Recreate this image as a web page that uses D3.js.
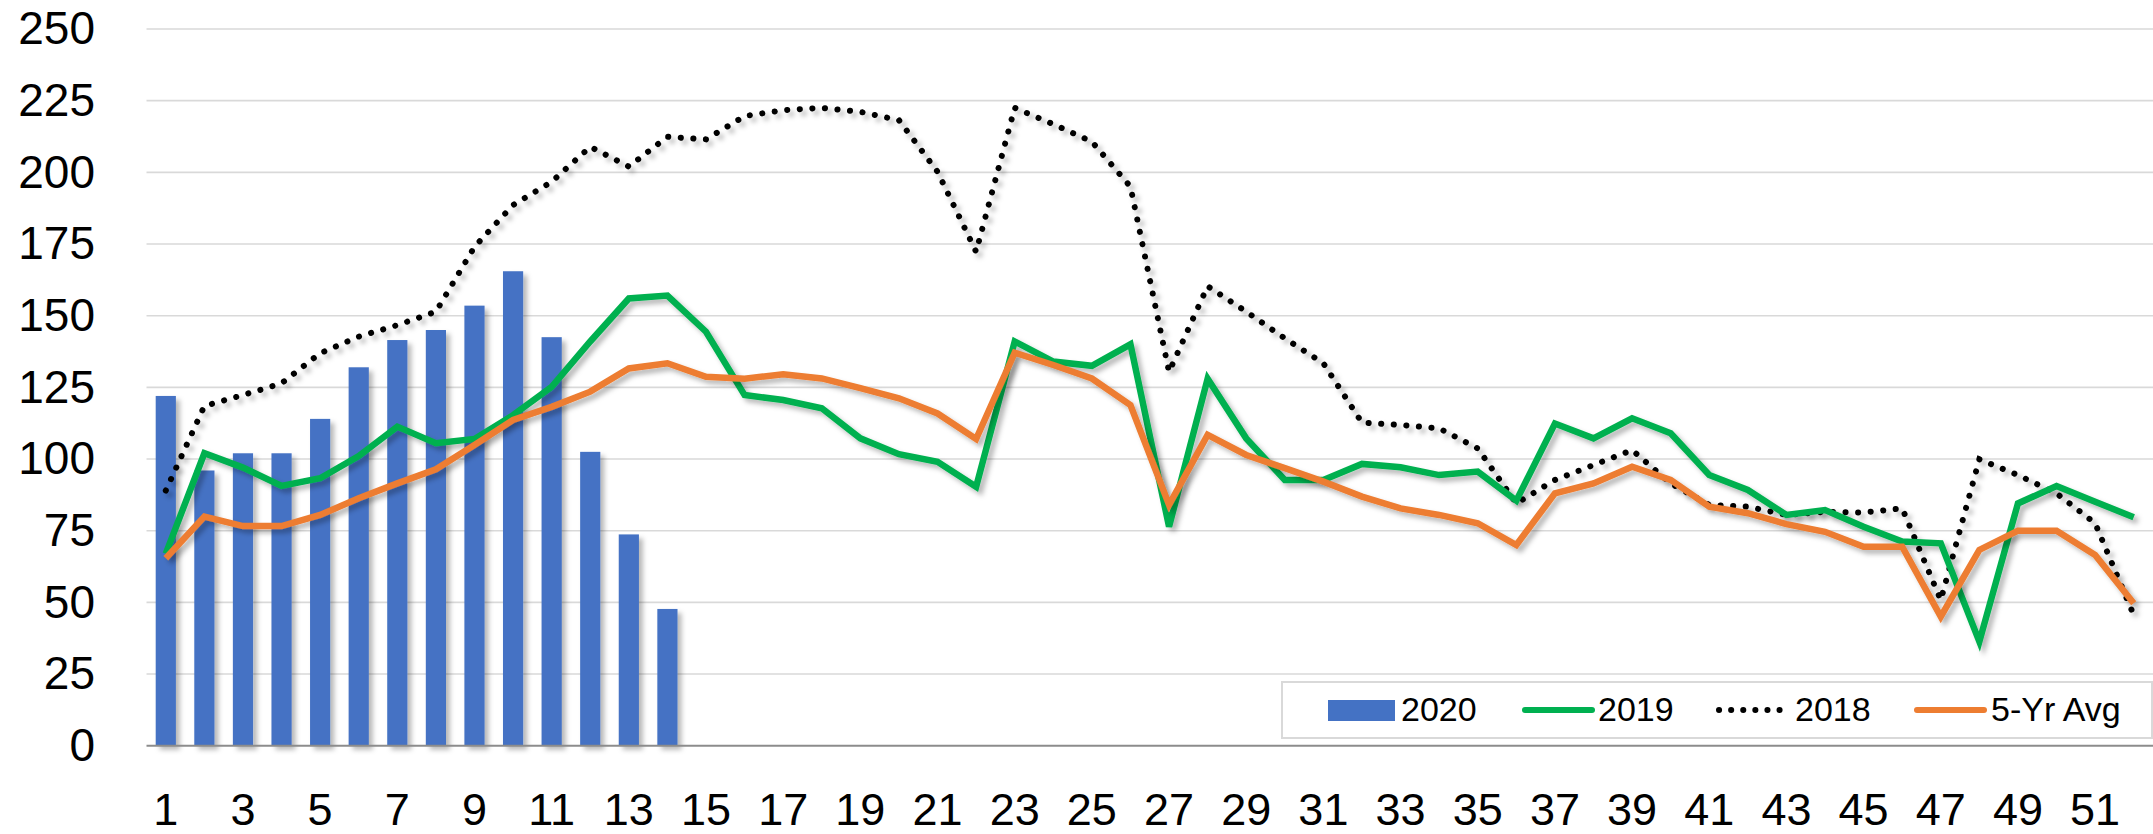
<!DOCTYPE html>
<html>
<head>
<meta charset="utf-8">
<script src="https://cdn.jsdelivr.net/npm/d3@7"></script>
<style>
  html, body { margin: 0; padding: 0; background: #fff; }
  svg text { font-family: "Liberation Sans", Arial, sans-serif; fill: #000; }
</style>
</head>
<body>
<div id="chart"></div>
<script>
var width = 2153, height = 834;

// week numbers
var weeks = d3.range(1, 53);
var weekTicks = d3.range(1, 53, 2);
var yTicks = [0, 25, 50, 75, 100, 125, 150, 175, 200, 225, 250];

// 2020 (bars, only first 14 weeks)
var bars2020 = [122, 96, 102, 102, 114, 132, 141.5, 145, 153.5, 165.5, 142.5, 102.5, 73.7, 47.7];

var line2019 = [67, 102, 97, 90.6, 93.3, 101, 111.3, 105.5, 107, 115.3, 125.2, 141, 156, 157, 144.4,
  122.3, 120.6, 117.7, 107.2, 101.7, 99, 90.3, 141, 134, 132.5, 140, 76.4, 128, 107.2, 92.7,
  92.7, 98.3, 97.1, 94.4, 95.6, 85.5, 112.4, 107.2, 114.2, 109, 94.4, 89.2, 80.5, 82.2, 76.4,
  71.2, 70.6, 36.3, 84.5, 90.6, 85.1, 79.7];

var line2018 = [89, 118.5, 122.3, 126.4, 136.9, 142.7, 146.7, 151.4, 174, 188.6, 196.7, 208.9, 202, 212.4, 211.5,
  219.6, 221.7, 222.5, 221.1, 218.2, 200.2, 172.3, 222.5, 216.8, 210.7, 195, 130.4, 160.3, 151.4, 142.1,
  133.4, 112.7, 111.9, 110.7, 103.7, 84.5, 92.7, 97.9, 103.1, 91.5, 84, 83.4, 80.5, 81.6, 81.3,
  82.8, 50.8, 99.9, 94.4, 88, 77.6, 45.6];

var lineAvg = [65.4, 79.9, 76.6, 76.6, 80.5, 86.3, 91.5, 96.4, 104.9, 113.6, 118.2, 123.5, 131.6, 133.4, 128.7,
  128, 129.6, 128.1, 124.7, 121.2, 115.9, 107, 137.1, 132.8, 128.1, 118.8, 84, 108.4, 101.4, 96.8,
  92.1, 86.9, 82.8, 80.5, 77.6, 70, 88, 91.5, 97.3, 92.7, 83.4, 81.1, 77.3, 74.6, 69.4,
  69.4, 45, 68.3, 75, 75, 66.5, 49.7];

var plotLeft = 146.5, plotRight = 2153, plotTop = 29, plotBottom = 745.7;

var svg = d3.select("#chart").append("svg")
    .attr("width", width)
    .attr("height", height);

var defs = svg.append("defs");
defs.append("filter")
    .attr("id", "shadow")
    .attr("x", "-5%").attr("y", "-5%")
    .attr("width", "110%").attr("height", "110%")
  .append("feDropShadow")
    .attr("dx", 4).attr("dy", 4)
    .attr("stdDeviation", 2.5)
    .attr("flood-color", "#000")
    .attr("flood-opacity", 0.28);

var xScale = d3.scaleBand()
    .domain(weeks)
    .range([plotLeft, plotRight])
    .paddingInner(0.477)
    .paddingOuter(0.2385);

var yScale = d3.scaleLinear()
    .domain([0, 250])
    .range([plotBottom, plotTop]);

function cx(w) { return xScale(w) + xScale.bandwidth() / 2; }

// gridlines
svg.append("g")
    .selectAll("line")
    .data(yTicks.slice(1))
    .enter()
    .append("line")
    .attr("x1", plotLeft)
    .attr("x2", plotRight)
    .attr("y1", function(d) { return yScale(d); })
    .attr("y2", function(d) { return yScale(d); })
    .attr("stroke", "#d9d9d9")
    .attr("stroke-width", 1.6);

// y axis labels
var yAxis = svg.append("g")
    .attr("transform", "translate(" + plotLeft + ",0)")
    .call(d3.axisLeft(yScale).tickValues(yTicks).tickSize(0).tickPadding(51.5));
yAxis.select(".domain").remove();
yAxis.selectAll("text")
    .style("font-size", "46px")
    .attr("fill", "#000");

// x axis labels
var xAxis = svg.append("g")
    .attr("transform", "translate(0," + plotBottom + ")")
    .call(d3.axisBottom(xScale).tickValues(weekTicks).tickSize(0).tickPadding(47));
xAxis.select(".domain").remove();
xAxis.selectAll("text")
    .style("font-size", "45px")
    .attr("fill", "#000");

// bars
svg.append("g")
    .attr("filter", "url(#shadow)")
    .selectAll("rect")
    .data(bars2020)
    .enter()
    .append("rect")
    .attr("x", function(d, i) { return xScale(weeks[i]); })
    .attr("y", function(d) { return yScale(d); })
    .attr("width", xScale.bandwidth())
    .attr("height", function(d) { return plotBottom - yScale(d); })
    .attr("fill", "#4472C4");

// baseline
svg.append("line")
    .attr("x1", plotLeft)
    .attr("x2", plotRight)
    .attr("y1", plotBottom)
    .attr("y2", plotBottom)
    .attr("stroke", "#8c8c8c")
    .attr("stroke-width", 2);

var valueLine = d3.line()
    .x(function(d, i) { return cx(weeks[i]); })
    .y(function(d) { return yScale(d); });

svg.append("path")
    .attr("d", valueLine(line2018))
    .attr("fill", "none")
    .attr("stroke", "#000")
    .attr("stroke-width", 6)
    .attr("stroke-linecap", "round")
    .attr("stroke-dasharray", "0.1 12.5")
    .attr("filter", "url(#shadow)");

svg.append("path")
    .attr("d", valueLine(line2019))
    .attr("fill", "none")
    .attr("stroke", "#00B050")
    .attr("stroke-width", 6.5)
    .attr("filter", "url(#shadow)");

svg.append("path")
    .attr("d", valueLine(lineAvg))
    .attr("fill", "none")
    .attr("stroke", "#ED7D31")
    .attr("stroke-width", 6.5)
    .attr("filter", "url(#shadow)");

// legend
var legend = svg.append("g");
legend.append("rect")
    .attr("x", 1282)
    .attr("y", 682)
    .attr("width", 870)
    .attr("height", 56)
    .attr("fill", "#fff")
    .attr("stroke", "#d9d9d9")
    .attr("stroke-width", 2);

var legendY = 710;
legend.append("rect")
    .attr("x", 1328).attr("y", 700)
    .attr("width", 67).attr("height", 21)
    .attr("fill", "#4472C4");
legend.append("line")
    .attr("x1", 1525).attr("x2", 1592)
    .attr("y1", legendY).attr("y2", legendY)
    .attr("stroke", "#00B050").attr("stroke-width", 6).attr("stroke-linecap", "round");
legend.append("line")
    .attr("x1", 1719).attr("x2", 1791)
    .attr("y1", legendY).attr("y2", legendY)
    .attr("stroke", "#000").attr("stroke-width", 6)
    .attr("stroke-linecap", "round").attr("stroke-dasharray", "0.1 12");
legend.append("line")
    .attr("x1", 1917).attr("x2", 1984)
    .attr("y1", legendY).attr("y2", legendY)
    .attr("stroke", "#ED7D31").attr("stroke-width", 6).attr("stroke-linecap", "round");

var legendText = [["2020", 1401], ["2019", 1598], ["2018", 1795], ["5-Yr Avg", 1991]];
legend.selectAll("text.lab")
    .data(legendText)
    .enter()
    .append("text")
    .attr("class", "lab")
    .attr("x", function(d) { return d[1]; })
    .attr("y", 721)
    .style("font-size", "34px")
    .text(function(d) { return d[0]; });
</script>
</body>
</html>
